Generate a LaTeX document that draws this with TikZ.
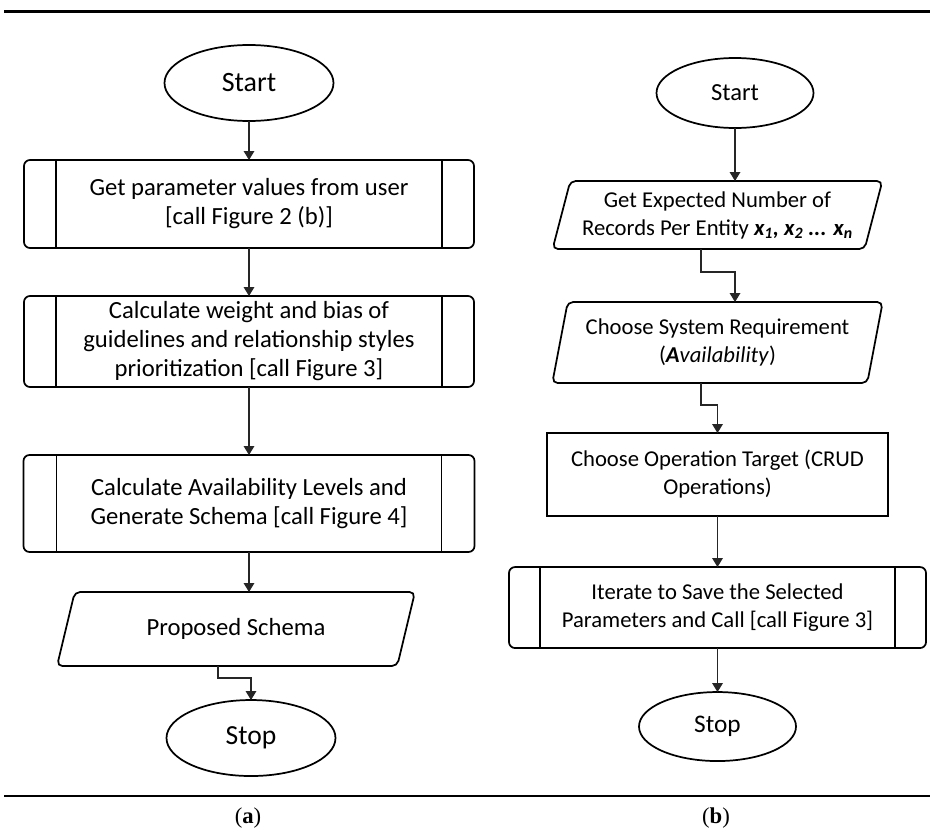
\documentclass[tikz,border=0pt]{standalone}
\usepackage{fontspec}
\setmainfont{Carlito}
\newfontfamily\capfont{Liberation Serif}
\usetikzlibrary{arrows.meta,positioning,calc,shapes.geometric}
\tikzset{every node/.append style={align=center}}
\newcommand{\txtA}{\fontsize{18.5}{21.75}\selectfont}
\newcommand{\txtB}{\fontsize{17}{21}\selectfont}

\begin{document}
\begin{tikzpicture}[x=0.75pt, y=0.75pt, >={Triangle[length=6.75pt,width=8pt]},
  terminal/.style={draw, ellipse, line width=1.3pt, inner sep=0pt, outer sep=0pt},
  subproc/.style={draw, rectangle, rounded corners=4.5pt, line width=1.3pt, inner sep=0pt, outer sep=0pt},
  procbox/.style={draw, rectangle, line width=1.3pt, inner sep=0pt, outer sep=0pt},
  io/.style={draw, trapezium, trapezium stretches=true, trapezium left angle=#1, trapezium right angle=180-#1, rounded corners=4pt, line width=1.3pt, inner sep=0pt, outer sep=0pt},
  flow/.style={->, line width=0.9pt, draw=black!85}]
  \useasboundingbox (0,0) rectangle (930,-832);

  % rules and captions
  \draw[line width=2.25pt] (4,-11) -- (930,-11);
  \draw[line width=1.9pt] (4,-796) -- (930,-796);
  \node[font=\capfont\fontsize{17}{20}\selectfont] (capA) at (248,-818) {(\textbf{a})};
  \node[font=\capfont\fontsize{17}{20}\selectfont] (capB) at (716,-818) {(\textbf{b})};

  % (a) main procedure
  \node[terminal, minimum width=126.75pt, minimum height=57pt, font=\fontsize{21}{25}\selectfont] (startA) at (249,-83) {Start};
  \node[subproc, below=29.25pt of startA, minimum width=337.5pt, minimum height=66pt, font=\txtA] (paramA) {Get parameter values from user\\{[}call Figure 2 (b)]};
  \node[subproc, below=36pt of paramA, minimum width=337.5pt, minimum height=68.25pt, font=\txtA] (weightA) {Calculate weight and bias of\\guidelines and relationship styles\\prioritization [call Figure 3]};
  \node[subproc, below=51pt of weightA, minimum width=338.25pt, minimum height=72.75pt, font=\txtA] (levelA) {Calculate Availability Levels and\\Generate Schema [call Figure 4]};
  \node[io=65, below=30pt of levelA, xshift=-9.75pt, minimum width=268.5pt, minimum height=55.5pt, font=\txtA] (schemaA) {Proposed Schema};
  \node[terminal, below=25.5pt of schemaA, xshift=11.25pt, minimum width=126.75pt, minimum height=57pt, font=\fontsize{20.7}{25}\selectfont] (stopA) {Stop};

  \draw[flow] (startA) -- (paramA);
  \draw[flow] (paramA) -- (weightA);
  \draw[flow] (weightA) -- (levelA);
  \draw[flow] (levelA.south) -- (levelA.south |- schemaA.north);
  \draw[flow] ($(schemaA.south)+(-18,0)$) -- ++(0,-12) -| (stopA.north);

  % (b) parameter input
  \node[terminal, minimum width=117.75pt, minimum height=52.5pt, font=\fontsize{18.4}{22}\selectfont] (startB) at (735,-93) {Start};
  \node[io=71, below=39.75pt of startB, xshift=-13.125pt, minimum width=248.25pt, minimum height=51pt, font=\txtB] (entityB) {Get Expected Number of\\Records Per Entity {\bfseries\itshape x\textsubscript{1}, x\textsubscript{2} ... x\textsubscript{n}}};
  \node[io=74, below=39.75pt of entityB, minimum width=248.25pt, minimum height=60.75pt, font=\txtB] (reqB) {Choose System Requirement\\(\textbf{\textit{A}}\textit{vailability})};
  \node[procbox, below=37.5pt of reqB, minimum width=255.75pt, minimum height=62.25pt, font=\txtB] (crudB) {Choose Operation Target (CRUD\\Operations)};
  \node[subproc, below=38.25pt of crudB, minimum width=312.75pt, minimum height=60.75pt, font=\txtB] (iterB) {Iterate to Save the Selected\\Parameters and Call [call Figure 3]};
  \node[terminal, below=33pt of iterB, minimum width=117.75pt, minimum height=51.75pt, font=\fontsize{19}{23}\selectfont] (stopB) {Stop};

  \draw[flow] (startB) -- (startB |- entityB.north);
  \draw[flow] ($(entityB.south)+(-16.5,0)$) -- ++(0,-23) -| (startB |- reqB.north);
  \draw[flow] ($(reqB.south)+(-16.5,0)$) -- ++(0,-22) -| (crudB.north);
  \draw[flow] (crudB) -- (iterB);
  \draw[flow] (iterB) -- (stopB);

  % side bars of the predefined-process boxes
  \foreach \n/\d in {paramA/32, weightA/32, levelA/33, iterB/31}
    \draw[line width=1.3pt] ($(\n.north west)+(\d,0)$) -- ($(\n.south west)+(\d,0)$)
                            ($(\n.north east)+(-\d,0)$) -- ($(\n.south east)+(-\d,0)$);
\end{tikzpicture}
\end{document}
